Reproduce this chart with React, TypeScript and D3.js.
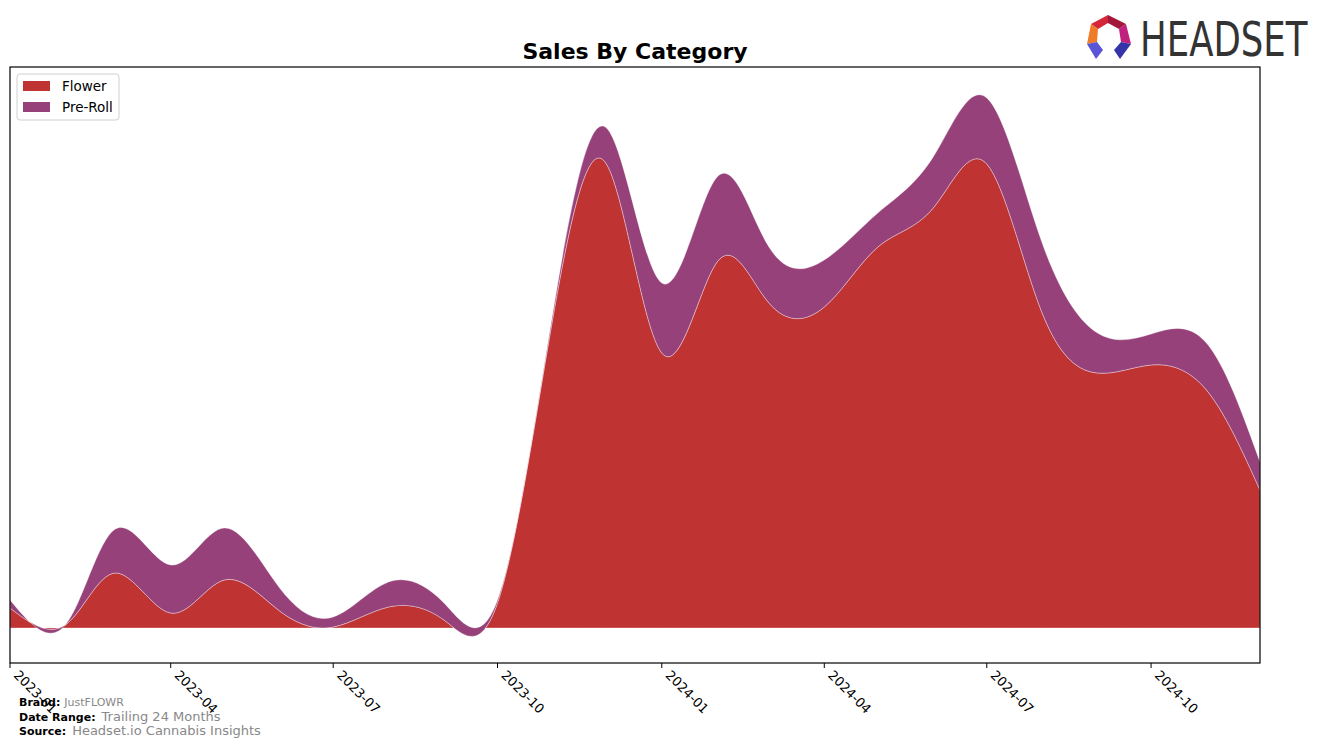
import React from "react";
import * as d3 from "d3";

const months = [
  "2023-01", "2023-02", "2023-03", "2023-04", "2023-05", "2023-06",
  "2023-07", "2023-08", "2023-09", "2023-10", "2023-11", "2023-12",
  "2024-01", "2024-02", "2024-03", "2024-04", "2024-05", "2024-06",
  "2024-07", "2024-08", "2024-09", "2024-10", "2024-11", "2024-12",
];
const flower = [20, 3, 55, 15, 48, 17, 1, 21, 8, 25, 310, 464, 275, 366, 325, 321, 381, 420, 464, 315, 255, 263, 238, 138];
const preRoll = [8, 0, 44, 48, 52, 23, 10, 25, 17, 3, 5, 36, 70, 85, 56, 47, 34, 51, 66, 70, 40, 31, 47, 28];
const categories = ["Flower", "Pre-Roll"];
const colors = ["#c03333", "#96417a"];
const tickLabels = ["2023-01", "2023-04", "2023-07", "2023-10", "2024-01", "2024-04", "2024-07", "2024-10"];

const W = 1324, H = 748;
const L = 10, R = 1260, T = 67, B = 663;

export default function App() {
  const parse = d3.timeParse("%Y-%m");
  const rows = months.map((m, i) => ({ date: parse(m) as Date, Flower: flower[i], "Pre-Roll": preRoll[i] }));
  const x = d3.scaleTime().domain([parse(months[0]) as Date, parse(months[months.length - 1]) as Date]).range([L, R]);
  const y = d3.scaleLinear().domain([-35, 561]).range([B, T]);
  const series = d3.stack<any>().keys(categories)(rows);
  const area = d3.area<any>()
    .x((d) => x(d.data.date))
    .y0((d) => y(d[0]))
    .y1((d) => y(d[1]))
    .curve(d3.curveNatural);

  return (
    <svg width={W} height={H} style={{ position: "absolute", left: 0, top: 0 }} fontFamily="DejaVu Sans, sans-serif">
      <defs>
        <clipPath id="plotclip">
          <rect x={L} y={T} width={R - L} height={B - T} />
        </clipPath>
      </defs>
      <rect x={0} y={0} width={W} height={H} fill="#fff" />
      <g clipPath="url(#plotclip)">
        {series.map((s, i) => (
          <path key={s.key} d={area(s as any) || ""} fill={colors[i]} stroke="#ffffff" strokeOpacity={0.35} strokeWidth={1} />
        ))}
      </g>
      <rect x={L} y={T} width={R - L} height={B - T} fill="none" stroke="#000" strokeWidth={1.2} />
      {tickLabels.map((t) => {
        const tx = x(parse(t) as Date);
        return (
          <g key={t}>
            <line x1={tx} x2={tx} y1={B} y2={B + 5} stroke="#000" strokeWidth={1} />
            <text transform={`translate(${tx + 3},${B + 13}) rotate(45)`} fontSize={13} fill="#000">{t}</text>
          </g>
        );
      })}
      <text x={(L + R) / 2} y={59} textAnchor="middle" fontSize={22} fontWeight="bold" fill="#000">Sales By Category</text>
      <g>
        <rect x={17} y={74} width={102} height={46} rx={3} fill="#fff" stroke="#d0d0d0" strokeWidth={1} />
        {categories.map((c, i) => (
          <g key={c}>
            <rect x={23} y={81 + i * 21} width={27} height={10} fill={colors[i]} />
            <text x={62} y={91 + i * 21} fontSize={13.5} fill="#000">{c}</text>
          </g>
        ))}
      </g>
      <g fontSize={11}>
        <text x={19} y={706}><tspan fontWeight="bold" fill="#000">Brand:</tspan><tspan dx={4} fill="#888">JustFLOWR</tspan></text>
        <text x={19} y={721}><tspan fontWeight="bold" fill="#000">Date Range:</tspan><tspan dx={6} fill="#888" fontSize={13}>Trailing 24 Months</tspan></text>
        <text x={19} y={735}><tspan fontWeight="bold" fill="#000">Source:</tspan><tspan dx={6} fill="#888" fontSize={13}>Headset.io Cannabis Insights</tspan></text>
      </g>
      <g>
        <polygon points="1091,24 1108,15 1108,23 1098,29" fill="#d4273a" />
        <polygon points="1108,15 1126,24 1119,29 1108,23" fill="#a3173a" />
        <polygon points="1091,24 1098,29 1097,42 1087,44" fill="#f07c2a" />
        <polygon points="1126,24 1131,44 1121,42 1119,29" fill="#c0207e" />
        <polygon points="1087,44 1097,42 1103,50 1096,59" fill="#5a55d6" />
        <polygon points="1131,44 1121,42 1114,50 1120,59" fill="#3434a8" />
        <text transform="translate(1140,56) scale(0.74,1)" fontSize={48} fill="#333">HEADSET</text>
      </g>
    </svg>
  );
}
